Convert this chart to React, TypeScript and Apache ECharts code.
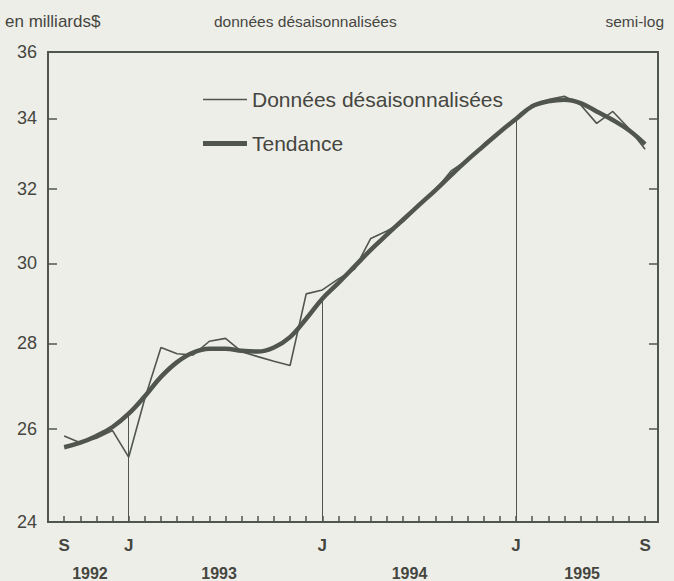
import React, { useEffect, useRef } from "react";
import * as echarts from "echarts";

const months = [
  "1992-09", "1992-10", "1992-11", "1992-12",
  "1993-01", "1993-02", "1993-03", "1993-04", "1993-05", "1993-06",
  "1993-07", "1993-08", "1993-09", "1993-10", "1993-11", "1993-12",
  "1994-01", "1994-02", "1994-03", "1994-04", "1994-05", "1994-06",
  "1994-07", "1994-08", "1994-09", "1994-10", "1994-11", "1994-12",
  "1995-01", "1995-02", "1995-03", "1995-04", "1995-05", "1995-06",
  "1995-07", "1995-08", "1995-09",
];

const rawValues = [
  25.85, 25.7, 25.8, 25.97,
  25.38, 26.7, 27.9, 27.75, 27.72, 28.05, 28.12, 27.8, 27.68, 27.57, 27.47, 29.22,
  29.32, 29.6, 29.85, 30.65, 30.85, 31.1, 31.55, 31.95, 32.5, 32.8, 33.25, 33.6,
  33.95, 34.4, 34.55, 34.65, 34.4, 33.85, 34.2, 33.7, 33.1,
];

const trendValues = [
  25.6, 25.7, 25.85, 26.05,
  26.35, 26.75, 27.2, 27.55, 27.78, 27.87, 27.87, 27.82, 27.8, 27.9, 28.15, 28.6,
  29.1, 29.5, 29.92, 30.35, 30.75, 31.15, 31.55, 31.95, 32.38, 32.8, 33.2, 33.6,
  33.98, 34.35, 34.5, 34.55, 34.45, 34.2, 33.95, 33.65, 33.25,
];

const seriesNames = ["Données désaisonnalisées", "Tendance"];
const yTickValues = [24, 26, 28, 30, 32, 34, 36];
const monthTickLabels: Record<string, string> = {
  "1992-09": "S",
  "1993-01": "J",
  "1994-01": "J",
  "1995-01": "J",
  "1995-09": "S",
};
const years = ["1992", "1993", "1994", "1995"];
const dropMonths = ["1993-01", "1994-01", "1995-01"];
const titles = ["en milliards$", "données désaisonnalisées", "semi-log"];

export default function App() {
  const ref = useRef<HTMLDivElement>(null);

  useEffect(() => {
    if (!ref.current) return;
    const chart = echarts.init(ref.current, undefined, { renderer: "svg" });
    const LN = Math.log;
    const ink = "#51564d";
    const textInk = "#45463f";
    const font = "'Liberation Sans', Arial, Helvetica, sans-serif";

    // layout: year label positions along the month axis
    const yearLabelAt = [1.6, 9.6, 21.4, 32.1];

    const monthIdx = months.map((_, i) => i);
    const monthLabelIdx = months
      .map((m, i) => (monthTickLabels[m] ? i : -1))
      .filter((i) => i >= 0);
    const yLn = yTickValues.map((v) => LN(v));
    const yInner = yTickValues.slice(1, -1).map((v) => LN(v));
    const yMin = LN(yTickValues[0]);
    const yMax = LN(yTickValues[yTickValues.length - 1]);

    const titleStyle = (size: number) => ({
      fontSize: size,
      fontWeight: "normal" as const,
      color: textInk,
      fontFamily: font,
    });

    const option: any = {
      animation: false,
      backgroundColor: "#eeeee9",
      textStyle: { fontFamily: font },
      title: [
        { text: titles[0], left: 5, top: 13, padding: 0, textStyle: titleStyle(17) },
        { text: titles[1], left: 214, top: 13, padding: 0, textStyle: titleStyle(15.5) },
        { text: titles[2], right: 10, top: 13, padding: 0, textStyle: titleStyle(15.5) },
      ],
      legend: {
        orient: "vertical",
        left: 203,
        top: 89,
        padding: 0,
        itemWidth: 44,
        itemHeight: 20,
        itemGap: 23,
        symbolKeepAspect: true,
        textStyle: { fontSize: 21, color: textInk, fontFamily: font },
        data: [
          { name: seriesNames[0], icon: "path://M0,0H44V1.6H0Z" },
          { name: seriesNames[1], icon: "path://M0,0H44V5H0Z" },
        ],
      },
      grid: {
        left: 48,
        right: 16,
        top: 52,
        bottom: 59,
        show: true,
        borderColor: ink,
        borderWidth: 2,
        backgroundColor: "transparent",
        outerBoundsMode: "none",
        containLabel: false,
      },
      xAxis: [
        {
          type: "value",
          min: -1,
          max: 36.8,
          position: "bottom",
          splitLine: { show: false },
          axisLine: { show: true, onZero: false, lineStyle: { color: ink, width: 2 } },
          axisTick: {
            show: true,
            inside: true,
            length: 6,
            customValues: monthIdx,
            lineStyle: { color: ink, width: 1.5 },
          },
          axisLabel: {
            customValues: monthLabelIdx,
            formatter: (v: number) => monthTickLabels[months[Math.round(v)]] ?? "",
            fontSize: 17,
            fontWeight: "bold",
            color: textInk,
            fontFamily: font,
            margin: 15,
          },
        },
        {
          type: "value",
          min: -1,
          max: 36.8,
          position: "bottom",
          splitLine: { show: false },
          axisLine: { show: false, onZero: false },
          axisTick: { show: false },
          axisLabel: {
            customValues: yearLabelAt,
            formatter: (v: number) => {
              let best = 0;
              yearLabelAt.forEach((p, i) => {
                if (Math.abs(p - v) < Math.abs(yearLabelAt[best] - v)) best = i;
              });
              return years[best];
            },
            fontSize: 16,
            fontWeight: "bold",
            color: textInk,
            fontFamily: font,
            margin: 43,
          },
        },
      ],
      yAxis: [
        {
          type: "value",
          min: yMin,
          max: yMax,
          position: "left",
          splitLine: { show: false },
          axisLine: { show: true, onZero: false, lineStyle: { color: ink, width: 2 } },
          axisTick: {
            show: true,
            inside: true,
            length: 9,
            customValues: yInner,
            lineStyle: { color: ink, width: 1.5 },
          },
          axisLabel: {
            customValues: yLn,
            formatter: (v: number) => String(Math.round(Math.exp(v))),
            fontSize: 18,
            color: textInk,
            fontFamily: font,
            margin: 11,
          },
        },
        {
          type: "value",
          min: yMin,
          max: yMax,
          position: "right",
          splitLine: { show: false },
          axisLine: { show: true, onZero: false, lineStyle: { color: ink, width: 2 } },
          axisTick: {
            show: true,
            inside: true,
            length: 9,
            customValues: yInner,
            lineStyle: { color: ink, width: 1.5 },
          },
          axisLabel: { show: false },
        },
      ],
      series: [
        {
          name: seriesNames[0],
          type: "line",
          xAxisIndex: 0,
          yAxisIndex: 0,
          symbol: "none",
          data: rawValues.map((v, i) => [i, LN(v)]),
          lineStyle: { color: ink, width: 1.6 },
          itemStyle: { color: ink },
          z: 3,
        },
        {
          name: seriesNames[1],
          type: "line",
          xAxisIndex: 0,
          yAxisIndex: 0,
          symbol: "none",
          smooth: 0.4,
          data: trendValues.map((v, i) => [i, LN(v)]),
          lineStyle: { color: ink, width: 4.5 },
          itemStyle: { color: ink },
          z: 2,
          markLine: {
            silent: true,
            symbol: ["none", "none"],
            label: { show: false },
            lineStyle: { color: ink, width: 1, type: "solid" },
            data: dropMonths.map((m) => {
              const i = months.indexOf(m);
              return [{ coord: [i, yMin] }, { coord: [i, LN(trendValues[i])] }];
            }),
          },
        },
      ],
    };

    chart.setOption(option);
    return () => chart.dispose();
  }, []);

  return (
    <div
      ref={ref}
      style={{ position: "absolute", left: 0, top: 0, width: 674, height: 581 }}
    />
  );
}
